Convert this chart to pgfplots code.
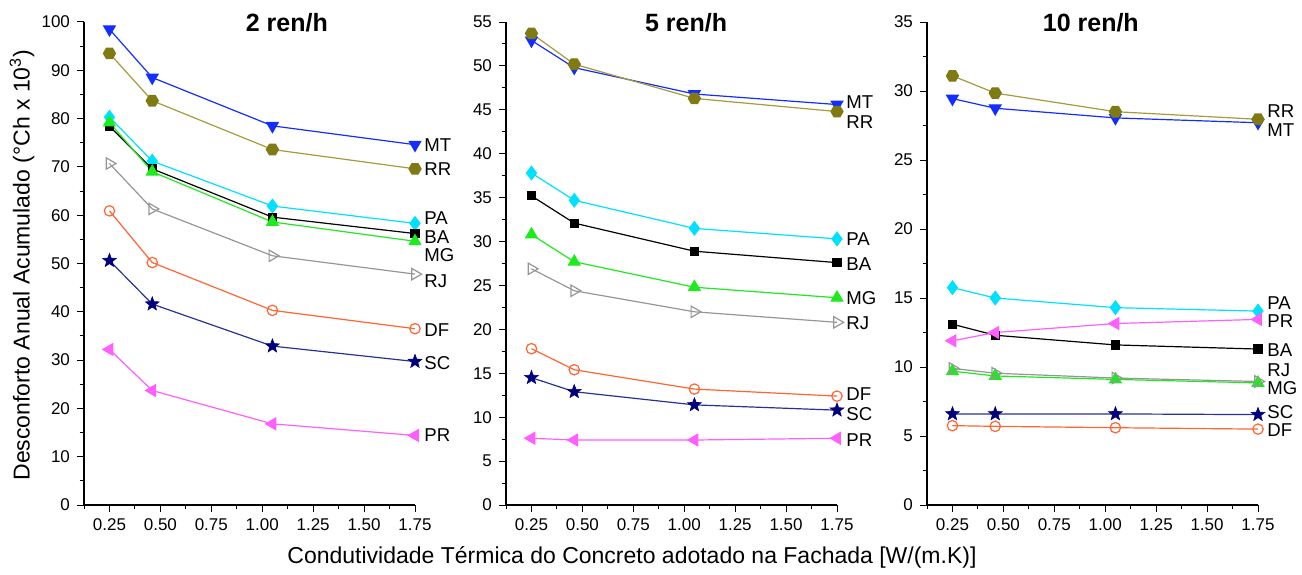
\documentclass[border=0pt]{standalone}
\usepackage{fontspec}
\setmainfont{Liberation Sans}
\usepackage{pgfplots}
\pgfplotsset{compat=1.18}

\definecolor{cMT}{RGB}{20,45,255}
\definecolor{cRR}{RGB}{128,122,20}
\definecolor{cRRl}{RGB}{165,155,60}
\definecolor{cPA}{RGB}{0,225,255}
\definecolor{cMG}{RGB}{30,235,30}
\definecolor{cRJ}{RGB}{150,150,150}
\definecolor{cDF}{RGB}{255,100,50}
\definecolor{cSC}{RGB}{0,0,125}
\definecolor{cSCl}{RGB}{40,50,150}
\definecolor{cPR}{RGB}{255,95,255}

% filled five-pointed star and hexagon marks
\pgfdeclareplotmark{fstar}{%
  \pgfpathmoveto{\pgfqpointpolar{90}{\pgfplotmarksize}}%
  \pgfpathlineto{\pgfqpointpolar{126}{0.42\pgfplotmarksize}}%
  \pgfpathlineto{\pgfqpointpolar{162}{\pgfplotmarksize}}%
  \pgfpathlineto{\pgfqpointpolar{198}{0.42\pgfplotmarksize}}%
  \pgfpathlineto{\pgfqpointpolar{234}{\pgfplotmarksize}}%
  \pgfpathlineto{\pgfqpointpolar{270}{0.42\pgfplotmarksize}}%
  \pgfpathlineto{\pgfqpointpolar{306}{\pgfplotmarksize}}%
  \pgfpathlineto{\pgfqpointpolar{342}{0.42\pgfplotmarksize}}%
  \pgfpathlineto{\pgfqpointpolar{18}{\pgfplotmarksize}}%
  \pgfpathlineto{\pgfqpointpolar{54}{0.42\pgfplotmarksize}}%
  \pgfpathclose\pgfusepathqfillstroke}
\pgfdeclareplotmark{hex}{%
  \pgfpathmoveto{\pgfqpointpolar{0}{\pgfplotmarksize}}%
  \pgfpathlineto{\pgfqpointpolar{60}{\pgfplotmarksize}}%
  \pgfpathlineto{\pgfqpointpolar{120}{\pgfplotmarksize}}%
  \pgfpathlineto{\pgfqpointpolar{180}{\pgfplotmarksize}}%
  \pgfpathlineto{\pgfqpointpolar{240}{\pgfplotmarksize}}%
  \pgfpathlineto{\pgfqpointpolar{300}{\pgfplotmarksize}}%
  \pgfpathclose\pgfusepathqfillstroke}

\tikzset{lab/.style={anchor=west, xshift=4.5pt, font=\fontsize{9.3}{11}\selectfont, text=black, inner sep=0pt}}

\pgfplotsset{
  panel/.style={
    scale only axis, width=165.5pt, height=241.5pt,
    anchor=south west, clip=false,
    axis lines=left, axis line style={-, line width=0.6pt},
    xmin=0.125, xmax=1.75, ymin=0,
    xtick={0.25,0.5,0.75,1,1.25,1.5,1.75},
    xticklabels={0.25,0.50,0.75,1.00,1.25,1.50,1.75},
    minor xtick={0.125,0.375,0.625,0.875,1.125,1.375,1.625},
    minor y tick num=1,
    tick align=outside,
    major tick length=3.5pt, minor tick length=2.2pt,
    tick style={line width=0.5pt, black},
    tick label style={font=\fontsize{8.5}{10}\selectfont},
    /pgf/number format/assume math mode=true,
    title style={font=\fontsize{12.5}{14}\bfseries, anchor=center},
  },
  sMT/.style={color=cMT, line width=0.6pt, mark=triangle*, mark size=3.3pt, mark options={rotate=180, fill=cMT}},
  sRR/.style={color=cRRl, line width=0.6pt, mark=hex, mark size=3pt, mark options={draw=cRR, fill=cRR}},
  sPA/.style={color=cPA, line width=0.6pt, mark=diamond*, mark size=3.3pt, mark options={fill=cPA}},
  sBA/.style={color=black, line width=0.6pt, mark=square*, mark size=2pt, mark options={fill=black}},
  sMG/.style={color=cMG, line width=0.6pt, mark=triangle*, mark size=3.3pt, mark options={fill=cMG}},
  sRJ/.style={color=cRJ, line width=0.6pt, mark=triangle, mark size=3.3pt, mark options={rotate=-90, fill=white}},
  sDF/.style={color=cDF, line width=0.6pt, mark=o, mark size=2.6pt, mark options={fill=white}},
  sSC/.style={color=cSCl, line width=0.6pt, mark=fstar, mark size=3.6pt, mark options={draw=cSC, fill=cSC, line width=0.3pt}},
  sPR/.style={color=cPR, line width=0.6pt, mark=triangle*, mark size=3.3pt, mark options={rotate=90, fill=cPR}},
}

\begin{document}
\begin{tikzpicture}[x=1pt,y=1pt]
\useasboundingbox (0,0) rectangle (651,287);

% 2 ren/h
\begin{axis}[panel, at={(42pt,34.5pt)}, ymax=100, ytick={0,10,...,100},
  title={2 ren/h}, title style={at={(axis description cs:0.613,0.973)}}]
  \addplot[sMT] coordinates {(0.25,98.5) (0.46,88.5) (1.05,78.5) (1.75,74.6)};
  \addplot[sRR] coordinates {(0.25,93.5) (0.46,83.7) (1.05,73.6) (1.75,69.6)};
  \addplot[sPA] coordinates {(0.25,80.3) (0.46,71.2) (1.05,61.9) (1.75,58.3)};
  \addplot[sBA] coordinates {(0.25,78.4) (0.46,69.6) (1.05,59.6) (1.75,56.2)};
  \addplot[sMG] coordinates {(0.25,79.2) (0.46,69.0) (1.05,58.6) (1.75,54.6)};
  \addplot[sRJ] coordinates {(0.25,70.7) (0.46,61.3) (1.05,51.6) (1.75,47.8)};
  \addplot[sDF] coordinates {(0.25,60.9) (0.46,50.2) (1.05,40.3) (1.75,36.5)};
  \addplot[sSC] coordinates {(0.25,50.6) (0.46,41.6) (1.05,32.9) (1.75,29.7)};
  \addplot[sPR] coordinates {(0.25,32.2) (0.46,23.7) (1.05,16.8) (1.75,14.4)};
  \node[lab] at (axis cs:1.75,74.5) {MT};
  \node[lab] at (axis cs:1.75,69.6) {RR};
  \node[lab] at (axis cs:1.75,59.3) {PA};
  \node[lab] at (axis cs:1.75,55.4) {BA};
  \node[lab] at (axis cs:1.75,51.8) {MG};
  \node[lab] at (axis cs:1.75,46.4) {RJ};
  \node[lab] at (axis cs:1.75,36.2) {DF};
  \node[lab] at (axis cs:1.75,29.4) {SC};
  \node[lab] at (axis cs:1.75,14.5) {PR};
\end{axis}

% 5 ren/h
\begin{axis}[panel, at={(253pt,34.5pt)}, ymax=55, ytick={0,5,...,55},
  title={5 ren/h}, title style={at={(axis description cs:0.544,0.973)}}]
  \addplot[sMT] coordinates {(0.25,52.9) (0.46,49.8) (1.05,46.8) (1.75,45.6)};
  \addplot[sRR] coordinates {(0.25,53.7) (0.46,50.2) (1.05,46.3) (1.75,44.8)};
  \addplot[sPA] coordinates {(0.25,37.8) (0.46,34.7) (1.05,31.5) (1.75,30.3)};
  \addplot[sBA] coordinates {(0.25,35.2) (0.46,32.1) (1.05,28.9) (1.75,27.6)};
  \addplot[sMG] coordinates {(0.25,30.8) (0.46,27.7) (1.05,24.8) (1.75,23.6)};
  \addplot[sRJ] coordinates {(0.25,26.9) (0.46,24.4) (1.05,22.0) (1.75,20.8)};
  \addplot[sDF] coordinates {(0.25,17.8) (0.46,15.4) (1.05,13.2) (1.75,12.4)};
  \addplot[sSC] coordinates {(0.25,14.5) (0.46,12.9) (1.05,11.4) (1.75,10.8)};
  \addplot[sPR] coordinates {(0.25,7.6) (0.46,7.4) (1.05,7.4) (1.75,7.6)};
  \node[lab] at (axis cs:1.75,45.9) {MT};
  \node[lab] at (axis cs:1.75,43.6) {RR};
  \node[lab] at (axis cs:1.75,30.3) {PA};
  \node[lab] at (axis cs:1.75,27.4) {BA};
  \node[lab] at (axis cs:1.75,23.6) {MG};
  \node[lab] at (axis cs:1.75,20.7) {RJ};
  \node[lab] at (axis cs:1.75,12.6) {DF};
  \node[lab] at (axis cs:1.75,10.4) {SC};
  \node[lab] at (axis cs:1.75,7.4) {PR};
\end{axis}

% 10 ren/h
\begin{axis}[panel, at={(463.5pt,34.5pt)}, ymax=35, ytick={0,5,...,35},
  title={10 ren/h}, title style={at={(axis description cs:0.495,0.973)}}]
  \addplot[sMT] coordinates {(0.25,29.45) (0.46,28.75) (1.05,28.05) (1.75,27.7)};
  \addplot[sRR] coordinates {(0.25,31.1) (0.46,29.85) (1.05,28.5) (1.75,27.95)};
  \addplot[sPA] coordinates {(0.25,15.75) (0.46,15.0) (1.05,14.3) (1.75,14.05)};
  \addplot[sBA] coordinates {(0.25,13.1) (0.46,12.3) (1.05,11.6) (1.75,11.3)};
  \addplot[sMG] coordinates {(0.25,9.7) (0.46,9.35) (1.05,9.1) (1.75,8.85)};
  \addplot[sRJ] coordinates {(0.25,9.9) (0.46,9.55) (1.05,9.2) (1.75,8.95)};
  \addplot[sDF] coordinates {(0.25,5.75) (0.46,5.7) (1.05,5.6) (1.75,5.5)};
  \addplot[sSC] coordinates {(0.25,6.6) (0.46,6.6) (1.05,6.6) (1.75,6.55)};
  \addplot[sPR] coordinates {(0.25,11.9) (0.46,12.5) (1.05,13.15) (1.75,13.45)};
  \node[lab] at (axis cs:1.75,28.55) {RR};
  \node[lab] at (axis cs:1.75,27.2) {MT};
  \node[lab] at (axis cs:1.75,14.65) {PA};
  \node[lab] at (axis cs:1.75,13.3) {PR};
  \node[lab] at (axis cs:1.75,11.2) {BA};
  \node[lab] at (axis cs:1.75,9.8) {RJ};
  \node[lab] at (axis cs:1.75,8.45) {MG};
  \node[lab] at (axis cs:1.75,6.75) {SC};
  \node[lab] at (axis cs:1.75,5.4) {DF};
\end{axis}

\node[rotate=90, font=\fontsize{11.5}{13}\selectfont] at (11,154.5) {Desconforto Anual Acumulado (°Ch x 10\textsuperscript{3})};
\node[font=\fontsize{11.5}{13}\selectfont] at (316,8.5) {Condutividade Térmica do Concreto adotado na Fachada [W/(m.K)]};
\end{tikzpicture}
\end{document}
